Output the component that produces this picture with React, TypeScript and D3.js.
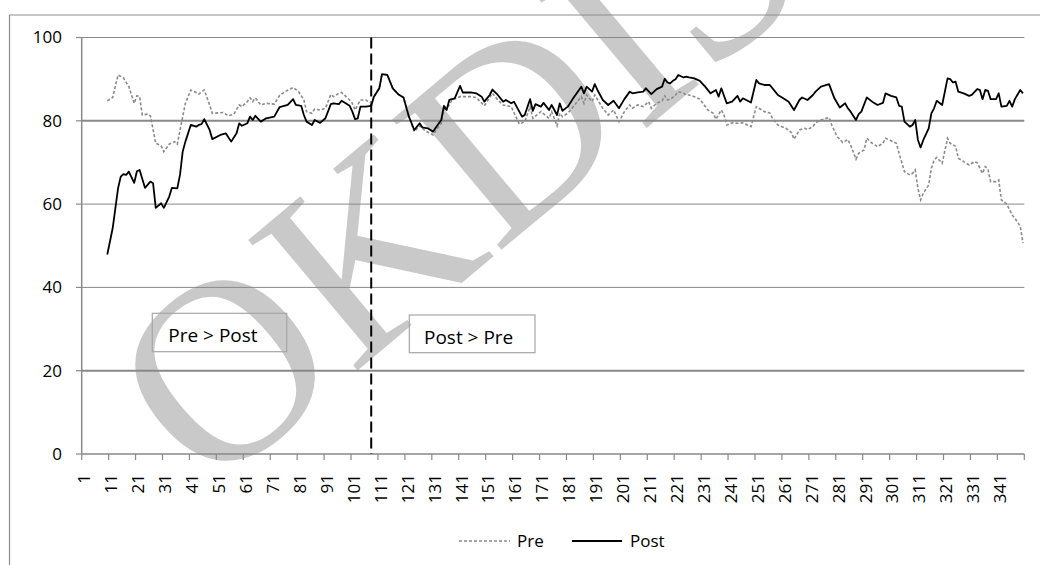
import React from "react";
import * as d3 from "d3";

// ---- data (category index, value) ----
const yTicks = [0, 20, 40, 60, 80, 100];
const xTickLabels = [1, 11, 21, 31, 41, 51, 61, 71, 81, 91, 101, 111, 121, 131, 141, 151, 161, 171, 181, 191, 201, 211, 221, 231, 241, 251, 261, 271, 281, 291, 301, 311, 321, 331, 341];
const categoryCount = 350;
const dividerCategory = 108;

const postSeries: [number, number][] = [
  [10, 47.9], [12, 54.2], [14, 63.8], [15, 66.6], [16, 67.2], [17, 67.0], [18, 67.8], [20, 65.1], [21, 67.9], [22, 68.2], [24, 63.9], [26, 65.4], [27, 65.0], [28, 59.1], [30, 60.2], [31, 59.1], [33, 61.8], [34, 63.9], [36, 63.8], [37, 67.0], [38, 72.6], [39, 75.0], [41, 79.0], [43, 78.6], [44, 79.0], [45, 79.2], [46, 80.4], [48, 77.8], [49, 75.6], [52, 76.6], [54, 77.0], [56, 75.0], [58, 77.0], [59, 79.4], [60, 78.8], [62, 79.4], [63, 81.0], [64, 80.2], [65, 81.2], [67, 79.8], [69, 80.6], [72, 81.0], [74, 83.3], [77, 83.8], [79, 85.2], [80, 83.8], [82, 83.6], [83, 81.4], [84, 79.8], [86, 79.0], [87, 80.2], [89, 79.5], [91, 80.6], [93, 84.0], [94, 84.2], [96, 84.0], [97, 84.8], [100, 83.6], [101, 82.2], [102, 80.4], [103, 80.6], [104, 83.4], [106, 83.4], [108, 83.6], [109, 85.8], [111, 87.8], [112, 91.2], [114, 91.0], [116, 87.8], [118, 86.4], [120, 85.6], [122, 81.0], [124, 77.8], [126, 79.4], [127, 78.4], [129, 78.2], [130, 77.8], [131, 77.4], [132, 78.4], [134, 80.2], [135, 83.6], [136, 82.6], [137, 85.0], [139, 85.4], [141, 88.4], [142, 86.8], [145, 86.8], [147, 86.6], [149, 85.8], [150, 84.6], [152, 86.2], [153, 87.5], [155, 86.2], [157, 84.6], [158, 85.0], [160, 84.2], [161, 84.6], [163, 82.2], [164, 81.0], [165, 81.4], [167, 85.2], [168, 82.4], [169, 84.0], [171, 83.4], [172, 84.3], [174, 82.6], [175, 83.8], [177, 81.4], [178, 84.2], [179, 82.4], [181, 83.4], [183, 85.4], [186, 88.2], [187, 86.6], [188, 88.2], [190, 87.0], [191, 88.8], [192, 87.4], [194, 85.0], [196, 83.8], [198, 84.8], [200, 83.0], [202, 85.2], [204, 87.0], [205, 86.6], [207, 86.8], [209, 87.0], [210, 87.8], [212, 86.4], [214, 87.6], [216, 88.2], [217, 90.1], [218, 89.2], [219, 89.0], [220, 89.6], [221, 90.0], [222, 91.0], [224, 90.4], [225, 90.6], [226, 90.4], [228, 90.2], [230, 89.6], [232, 88.2], [234, 86.6], [236, 87.4], [237, 85.8], [238, 87.8], [240, 84.2], [242, 84.6], [244, 86.0], [245, 84.6], [246, 85.4], [249, 84.4], [251, 89.8], [252, 89.0], [254, 88.6], [256, 88.6], [258, 87.0], [259, 86.2], [261, 85.4], [263, 84.6], [265, 82.6], [267, 85.0], [268, 85.6], [270, 85.0], [272, 86.2], [273, 87.0], [275, 88.2], [278, 88.8], [280, 85.4], [282, 83.2], [284, 84.2], [285, 83.0], [286, 82.2], [288, 80.2], [289, 81.6], [290, 82.2], [292, 85.6], [294, 84.6], [296, 83.8], [298, 84.3], [299, 86.6], [301, 86.0], [303, 85.6], [304, 83.6], [305, 83.4], [306, 79.8], [308, 78.6], [309, 79.0], [310, 80.2], [311, 75.4], [312, 73.6], [313, 75.4], [315, 78.2], [316, 81.8], [317, 83.0], [318, 84.8], [320, 83.8], [322, 90.2], [323, 90.0], [324, 89.2], [325, 89.4], [326, 87.0], [328, 86.6], [330, 86.0], [331, 86.2], [333, 87.6], [334, 87.4], [335, 85.2], [336, 87.4], [337, 87.2], [338, 85.2], [340, 85.2], [341, 86.6], [342, 83.4], [344, 83.6], [345, 84.8], [346, 83.4], [347, 85.2], [349, 87.4], [350, 86.6],
];

const preSeries: [number, number][] = [
  [10, 84.8], [12, 85.6], [14, 91.0], [16, 90.3], [18, 88.2], [20, 84.2], [21, 86.0], [22, 85.8], [23, 81.4], [25, 81.6], [26, 81.2], [28, 74.6], [30, 74.0], [31, 72.6], [33, 74.4], [35, 75.0], [36, 74.4], [38, 81.0], [39, 84.2], [41, 87.4], [43, 86.8], [44, 86.4], [46, 87.4], [48, 83.8], [49, 81.8], [53, 82.0], [55, 81.2], [57, 81.6], [59, 83.8], [60, 83.4], [62, 84.6], [63, 85.5], [64, 84.6], [65, 85.5], [67, 83.8], [69, 84.2], [72, 84.0], [74, 86.1], [76, 87.0], [79, 88.0], [81, 87.0], [83, 85.0], [84, 82.2], [86, 81.8], [87, 82.8], [89, 82.6], [91, 83.0], [93, 86.3], [94, 85.8], [96, 86.6], [97, 86.8], [100, 85.0], [101, 84.2], [102, 82.6], [104, 85.0], [106, 85.0], [108, 84.2],
  [109, 85.8], [111, 87.8], [112, 91.2], [114, 91.0], [116, 87.8], [118, 86.4], [120, 85.6], [122, 81.0], [124, 77.4], [126, 78.8], [128, 77.6], [131, 76.6], [132, 77.6], [134, 79.4], [135, 82.6], [137, 83.8], [138, 85.0], [141, 85.8], [145, 85.8], [147, 85.6], [150, 83.6], [153, 86.6], [155, 85.0], [157, 83.8], [160, 83.4], [163, 79.2], [165, 79.8], [167, 83.4], [168, 80.6], [171, 82.2], [174, 80.6], [175, 82.2], [177, 78.8], [178, 81.8], [179, 81.0], [181, 81.8], [183, 83.4], [186, 85.8], [187, 84.2], [188, 86.2], [190, 84.6], [191, 86.2], [194, 83.0], [196, 81.4], [198, 82.6], [200, 79.8], [202, 82.2], [204, 83.8], [205, 83.0], [207, 83.8], [209, 83.4], [211, 84.6], [212, 83.0], [214, 84.2], [216, 84.8], [217, 86.0], [218, 85.0], [219, 85.2], [220, 85.6], [221, 86.2], [222, 87.0], [224, 86.6], [225, 86.2], [226, 86.2], [228, 85.8], [230, 85.2], [233, 82.6], [235, 81.8], [236, 80.4], [238, 82.6], [239, 81.4], [240, 79.0], [242, 79.5], [244, 79.4], [246, 79.5], [249, 78.6], [251, 83.4], [254, 82.2], [256, 81.9], [257, 80.6], [259, 79.0], [262, 78.2], [264, 77.2], [265, 75.6], [267, 77.8], [269, 78.2], [270, 77.9], [272, 78.6], [273, 79.5], [275, 80.2], [278, 80.8], [279, 79.0], [281, 76.2], [282, 75.6], [283, 74.8], [285, 75.5], [286, 74.2], [288, 70.8], [289, 72.2], [291, 73.0], [292, 75.8], [294, 74.6], [296, 73.8], [298, 74.6], [299, 75.8], [301, 75.2], [303, 74.6], [304, 72.2], [306, 67.8], [308, 67.0], [309, 67.4], [310, 68.2], [311, 63.8], [312, 61.0], [313, 62.6], [315, 64.6], [316, 68.6], [317, 70.6], [318, 71.2], [320, 69.8], [322, 75.8], [323, 74.6], [325, 73.9], [326, 71.0], [328, 70.2], [330, 69.4], [332, 70.2], [333, 69.9], [335, 67.4], [336, 69.0], [337, 68.4], [338, 65.4], [340, 65.4], [341, 65.8], [342, 61.0], [344, 60.0], [346, 57.4], [347, 56.6], [349, 54.7], [350, 50.7],
];

const seriesNames = ["Pre", "Post"];
const annotationLabels = ["Pre > Post", "Post > Pre"];
const watermarkText = "OKDIS";

const FONT = "'Open Sans', 'Noto Sans', sans-serif";
const GRID = "#898989";

export default function App() {
  const x = d3.scaleLinear().domain([0.5, categoryCount + 0.5]).range([81.7, 1024.3]);
  const y = d3.scaleLinear().domain([0, 100]).range([454, 37.5]);
  const line = d3.line<[number, number]>().x((d) => x(d[0])).y((d) => y(d[1]));
  const boundaries = d3.range(0, categoryCount + 1, 10).map((k) => k + 0.5);

  return (
    <svg
      width={1040}
      height={565}
      style={{ position: "absolute", left: 0, top: 0, background: "#fff" }}
      fontFamily={FONT}
    >
      <rect x={0} y={0} width={1040} height={565} fill="#fff" />
      {/* watermark */}
      <text
        transform="translate(208,496) rotate(-40)"
        fontFamily="'Liberation Serif', serif"
        fontSize={260}
        fill="#c9c9c9"
      >
        {watermarkText}
      </text>
      {/* outer chart frame (cropped) */}
      <line x1={9.5} y1={15} x2={1040} y2={15} stroke="#8c8c8c" strokeWidth={1.2} />
      <line x1={9.5} y1={15} x2={9.5} y2={565} stroke="#8c8c8c" strokeWidth={1.2} />

      {/* gridlines */}
      {yTicks.map((t) => (
        <g key={t}>
          <line
            x1={x(0.5)}
            x2={x(categoryCount + 0.5)}
            y1={y(t)}
            y2={y(t)}
            stroke={GRID}
            strokeWidth={t === 80 || t === 20 ? 2 : t === 0 ? 1.3 : 1}
          />
          <line x1={76} x2={x(0.5)} y1={y(t)} y2={y(t)} stroke={GRID} strokeWidth={1.2} />
          <text x={62} y={y(t)} dy="0.35em" textAnchor="end" fontSize={17} fill="#000">
            {t}
          </text>
        </g>
      ))}
      {/* y axis line */}
      <line x1={x(0.5)} x2={x(0.5)} y1={y(100)} y2={y(0)} stroke={GRID} strokeWidth={1.5} />

      {/* x ticks */}
      {boundaries.map((b) => (
        <line key={b} x1={x(b)} x2={x(b)} y1={y(0)} y2={y(0) + 6} stroke={GRID} strokeWidth={1.2} />
      ))}
      {xTickLabels.map((v) => (
        <text
          key={v}
          transform={`translate(${x(v) + 1.5},474) rotate(-90)`}
          dy="0.35em"
          textAnchor="end"
          fontSize={17}
          fill="#000"
        >
          {v}
        </text>
      ))}

      {/* divider */}
      <line
        x1={x(dividerCategory)}
        x2={x(dividerCategory)}
        y1={y(100)}
        y2={y(0)}
        stroke="#000"
        strokeWidth={2}
        strokeDasharray="11,5"
      />

      {/* annotation boxes */}
      <rect x={152.3} y={313.3} width={134.4} height={38.4} fill="none" stroke="#a6a6a6" strokeWidth={1.2} />
      <text x={168.3} y={341.7} fontSize={19} fill="#000">{annotationLabels[0]}</text>
      <rect x={409.3} y={315} width={125.7} height={37.7} fill="none" stroke="#a6a6a6" strokeWidth={1.2} />
      <text x={424} y={344} fontSize={19} fill="#000">{annotationLabels[1]}</text>

      {/* series */}
      <path d={line(preSeries) || ""} fill="none" stroke="#8a8a8a" strokeWidth={1.6} strokeDasharray="3,2" />
      <path d={line(postSeries) || ""} fill="none" stroke="#000" strokeWidth={1.8} strokeLinejoin="round" />

      {/* legend */}
      <line x1={459} x2={510} y1={541} y2={541} stroke="#8a8a8a" strokeWidth={1.6} strokeDasharray="3,2" />
      <text x={517} y={541} dy="0.35em" fontSize={17} fill="#000">{seriesNames[0]}</text>
      <line x1={572} x2={622} y1={541} y2={541} stroke="#000" strokeWidth={1.8} />
      <text x={630} y={541} dy="0.35em" fontSize={17} fill="#000">{seriesNames[1]}</text>
    </svg>
  );
}
